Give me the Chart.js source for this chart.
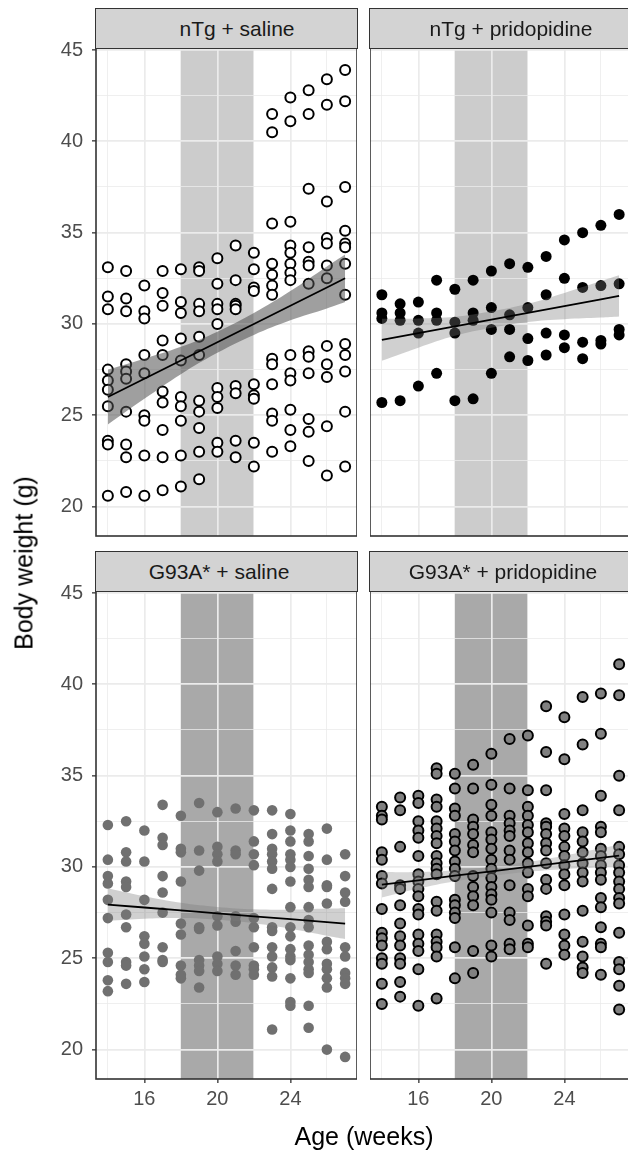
<!DOCTYPE html>
<html>
<head>
<meta charset="utf-8">
<script src="https://cdn.jsdelivr.net/npm/chart.js"></script>
<style>
  html, body { margin:0; padding:0; background:#fff; }
  body { width:628px; height:1151px; overflow:hidden; position:relative; font-family:"Liberation Sans", Arial, sans-serif; }
  canvas { position:absolute; }
  .strip { position:absolute; background:#D3D3D3; border:1.5px solid #333; box-sizing:border-box; z-index:5; }
  .strip span { position:absolute; top:50%; transform:translate(-50%,-50%); font-size:21px; color:#1A1A1A; white-space:nowrap; }
  .title { position:absolute; font-size:25px; color:#000; white-space:nowrap; z-index:5; }
</style>
</head>
<body>
<div class="strip" style="left:95px;top:8px;width:263px;height:41px;"><span style="left:141px">nTg + saline</span></div>
<div class="strip" style="left:369px;top:8px;width:263px;height:41px;"><span style="left:141px">nTg + pridopidine</span></div>
<div class="strip" style="left:95px;top:551px;width:263px;height:41px;"><span style="left:123px">G93A* + saline</span></div>
<div class="strip" style="left:369px;top:551px;width:263px;height:41px;"><span style="left:133px">G93A* + pridopidine</span></div>
<div class="title" id="ytitle" style="left:24px;top:563px;transform:translate(-50%,-50%) rotate(-90deg);">Body weight (g)</div>
<div class="title" style="left:364px;top:1136px;transform:translate(-50%,-50%);">Age (weeks)</div>

<canvas id="c1"></canvas>
<canvas id="c2"></canvas>
<canvas id="c3"></canvas>
<canvas id="c4"></canvas>

<script>
// ---------------- DATA ----------------
const weeks = [14, 15, 16, 17, 18, 19, 20, 21, 22, 23, 24, 25, 26, 27];
const xTicks = [14, 16, 18, 20, 22, 24, 26];
const xLabels = [16, 20, 24];
const yTicks = [20, 22.5, 25, 27.5, 30, 32.5, 35, 37.5, 40, 42.5, 45];
const yLabels = [20, 25, 30, 35, 40, 45];
const treatmentWindow = [18, 22];

const nTgSaline = [
  [33.1, 31.5, 30.8, 27.5, 26.9, 26.4, 25.5, 23.6, 23.4, 20.6],
  [32.9, 31.4, 30.7, 27.8, 27.4, 27.0, 25.2, 23.4, 22.7, 20.8],
  [32.1, 30.7, 30.3, 28.3, 27.3, 25.0, 24.7, 22.8, 20.6],
  [32.9, 31.7, 31.0, 29.1, 28.3, 26.3, 25.7, 24.2, 22.7, 20.9],
  [33.0, 31.2, 30.6, 29.2, 28.0, 26.0, 25.5, 24.7, 22.8, 21.1],
  [33.1, 32.9, 31.1, 30.7, 29.3, 28.3, 25.8, 25.2, 24.3, 23.0, 21.5],
  [33.6, 32.2, 31.1, 30.8, 30.0, 26.5, 26.0, 25.4, 23.5, 23.0],
  [34.3, 32.4, 31.1, 31.0, 30.8, 26.6, 26.2, 23.6, 22.7],
  [33.9, 33.0, 32.0, 31.8, 26.7, 26.1, 25.9, 23.5, 22.2],
  [41.5, 40.5, 35.5, 33.3, 32.7, 32.1, 31.6, 28.1, 27.8, 26.7, 25.1, 24.7, 23.0],
  [42.4, 41.1, 35.6, 34.3, 33.9, 33.3, 32.8, 32.4, 28.3, 27.3, 26.9, 25.3, 24.2, 23.3],
  [42.8, 41.5, 37.4, 34.2, 33.4, 33.2, 32.2, 28.5, 28.2, 27.3, 24.8, 24.1, 22.5],
  [43.4, 42.0, 36.7, 34.7, 34.4, 33.2, 32.5, 28.8, 27.8, 27.1, 24.4, 21.7],
  [43.9, 42.2, 37.5, 35.1, 34.4, 34.2, 33.3, 31.6, 28.9, 28.3, 27.4, 25.2, 22.2]
];
const nTgPrido = [
  [31.6, 30.6, 30.3, 25.7],
  [31.1, 30.6, 30.2, 25.8],
  [31.2, 30.2, 29.5, 26.6],
  [32.4, 30.6, 30.2, 27.3],
  [31.9, 30.1, 29.5, 25.8],
  [32.4, 30.6, 30.2, 25.9],
  [32.9, 30.9, 29.7, 27.3],
  [33.3, 30.5, 29.7, 28.2],
  [33.1, 30.9, 29.2, 28.0],
  [33.7, 31.6, 29.5, 28.3],
  [34.6, 32.5, 29.4, 28.7],
  [35.0, 32.0, 29.0, 28.1],
  [35.4, 32.1, 29.1, 28.9],
  [36.0, 32.2, 29.7, 29.4]
];
const g93aSaline = [
  [32.3, 30.4, 29.5, 29.1, 28.2, 27.2, 25.3, 24.8, 23.8, 23.2],
  [32.5, 30.8, 30.3, 29.2, 28.9, 27.4, 26.7, 24.8, 24.6, 23.6],
  [32.0, 30.3, 28.2, 26.2, 25.8, 25.1, 24.4, 23.7],
  [33.4, 31.6, 31.2, 29.5, 28.6, 27.5, 25.6, 24.9, 24.8],
  [32.8, 31.0, 30.8, 29.2, 26.9, 26.3, 24.6, 24.1, 23.9],
  [33.5, 30.9, 29.8, 26.7, 26.6, 24.9, 24.6, 24.3, 23.4],
  [33.0, 31.1, 30.7, 30.3, 27.3, 26.8, 25.1, 24.7, 24.3],
  [33.2, 30.9, 30.7, 27.3, 27.0, 25.4, 24.6, 24.1],
  [33.1, 31.4, 30.7, 30.1, 27.2, 26.7, 25.6, 24.6, 24.4, 24.1],
  [33.1, 31.8, 31.0, 30.7, 30.3, 29.9, 28.8, 26.7, 26.5, 25.6, 25.1, 24.5, 24.0, 21.1],
  [32.9, 32.0, 31.4, 30.7, 30.4, 30.0, 29.2, 27.8, 26.7, 26.2, 25.5, 25.1, 24.9, 23.9, 22.6, 22.4],
  [31.8, 31.4, 30.6, 29.9, 29.3, 28.9, 27.8, 27.1, 26.7, 25.7, 25.2, 24.8, 24.4, 24.2, 22.4, 21.2],
  [32.1, 30.4, 29.0, 28.9, 28.0, 25.9, 25.5, 24.7, 24.4, 23.9, 23.4, 20.0],
  [30.7, 29.5, 28.6, 28.1, 25.6, 25.1, 24.2, 23.9, 23.6, 19.6]
];
const g93aPrido = [
  [33.3, 32.8, 32.6, 30.8, 30.4, 29.5, 29.1, 27.7, 26.4, 26.1, 25.7, 25.0, 24.7, 23.6, 22.5],
  [33.8, 33.1, 31.1, 29.0, 28.8, 27.9, 26.9, 26.2, 25.7, 25.0, 24.7, 23.7, 22.9],
  [33.9, 33.5, 32.5, 32.0, 31.6, 30.6, 29.6, 29.2, 28.8, 28.4, 27.7, 27.4, 26.3, 25.8, 25.4, 24.4, 22.4],
  [35.4, 35.1, 33.7, 33.3, 32.5, 32.1, 31.7, 31.3, 30.6, 30.2, 29.9, 29.6, 28.1, 27.6, 26.3, 25.9, 25.6, 25.1, 22.8],
  [35.1, 34.3, 33.2, 32.8, 31.8, 31.4, 30.9, 30.3, 29.9, 29.5, 28.2, 27.9, 27.5, 27.2, 25.6, 23.9],
  [35.6, 34.3, 32.6, 32.2, 31.8, 31.2, 30.8, 29.5, 28.9, 28.4, 27.9, 25.4, 24.2],
  [36.2, 34.5, 33.4, 32.8, 31.9, 31.5, 31.0, 30.4, 29.9, 29.4, 28.9, 28.5, 28.2, 27.5, 25.7, 25.1],
  [37.0, 34.3, 32.8, 32.4, 32.0, 31.7, 30.9, 30.4, 29.0, 27.5, 27.1, 25.8, 25.5],
  [37.2, 34.2, 33.3, 32.8, 32.3, 31.9, 31.3, 30.8, 30.2, 29.7, 28.8, 28.4, 26.8, 25.8, 25.6],
  [38.8, 36.3, 34.2, 32.4, 32.2, 31.8, 31.3, 30.9, 30.2, 29.3, 28.8, 27.3, 27.0, 26.8, 24.7],
  [38.2, 35.9, 32.9, 32.1, 31.7, 31.1, 30.6, 30.1, 29.6, 29.0, 27.4, 26.3, 25.7, 25.2],
  [39.3, 36.7, 33.1, 31.9, 31.4, 30.8, 30.2, 29.7, 29.2, 27.6, 25.9, 25.1, 24.5, 24.2],
  [39.5, 37.3, 33.9, 32.2, 31.9, 31.0, 30.6, 30.1, 29.7, 29.3, 28.3, 27.8, 26.7, 25.8, 25.6, 24.1],
  [41.1, 39.4, 35.0, 33.1, 31.1, 30.7, 30.1, 29.7, 29.2, 28.8, 28.3, 28.0, 26.4, 24.8, 24.4, 23.5, 22.2]
];

// Fitted line and confidence band, read at these ages
const fitX = [14, 16, 18, 20, 22, 24, 26, 27];
const nTgSalineFit   = [26.0, 27.0, 28.0, 29.0, 30.0, 31.0, 32.0, 32.5];
const nTgSalineUpper = [27.5, 28.1, 28.75, 29.58, 30.6, 31.8, 33.15, 33.8];
const nTgSalineLower = [24.5, 25.9, 27.25, 28.42, 29.4, 30.2, 30.85, 31.2];
const nTgPridoFit    = [29.13, 29.50, 29.87, 30.24, 30.61, 30.98, 31.35, 31.54];
const nTgPridoUpper  = [30.28, 30.30, 30.39, 30.69, 31.11, 31.70, 32.35, 32.67];
const nTgPridoLower  = [27.98, 28.70, 29.35, 29.79, 30.11, 30.26, 30.35, 30.41];
const g93aSalineFit   = [27.94, 27.78, 27.62, 27.46, 27.30, 27.14, 26.98, 26.90];
const g93aSalineUpper = [28.84, 28.40, 28.04, 27.81, 27.68, 27.66, 27.72, 27.74];
const g93aSalineLower = [27.04, 27.16, 27.20, 27.11, 26.92, 26.62, 26.24, 26.06];
const g93aPridoFit    = [29.03, 29.27, 29.52, 29.76, 30.01, 30.25, 30.50, 30.62];
const g93aPridoUpper  = [29.73, 29.72, 29.82, 30.01, 30.28, 30.62, 31.02, 31.22];
const g93aPridoLower  = [28.33, 28.82, 29.22, 29.51, 29.74, 29.88, 29.98, 30.02];

// ---------------- HELPERS ----------------
const X_MIN = 13.35, X_MAX = 27.65, Y_MIN = 18.39, Y_MAX = 45.11;
const PANEL_W = 261, PANEL_H = 488, PAD_TOP = 25, PAD_BOT = 25;

function toPoints(groups) {
  const pts = [];
  groups.forEach((vals, i) => vals.forEach(v => pts.push({ x: weeks[i], y: v })));
  return pts;
}
function toXY(ys) { return fitX.map((x, i) => ({ x: x, y: ys[i] })); }

const windowPlugin = {
  id: 'windowRect',
  beforeDraw(chart, args, opts) {
    const { ctx, chartArea, scales } = chart;
    const x0 = scales.x.getPixelForValue(treatmentWindow[0]);
    const x1 = scales.x.getPixelForValue(treatmentWindow[1]);
    ctx.save();
    ctx.fillStyle = opts.color;
    ctx.fillRect(x0, chartArea.top, x1 - x0, chartArea.bottom - chartArea.top);
    ctx.restore();
  },
  afterDraw(chart) {
    const { ctx, chartArea } = chart;
    ctx.save();
    ctx.strokeStyle = '#333333';
    ctx.lineWidth = 1.6;
    ctx.strokeRect(chartArea.left, chartArea.top, chartArea.right - chartArea.left, chartArea.bottom - chartArea.top);
    ctx.restore();
  }
};

function makePanel(id, left, top, opt) {
  const showY = opt.showY, showX = opt.showX;
  const yW = showY ? 96 : 0;
  const xH = showX ? 45 : 0;
  const padB = showX ? 0 : PAD_BOT;
  const cv = document.getElementById(id);
  cv.width = yW + PANEL_W;
  cv.height = PAD_TOP + PANEL_H + xH + padB;
  cv.style.left = (left - yW) + 'px';
  cv.style.top = (top - PAD_TOP) + 'px';

  const isMajorX = v => xLabels.includes(v);
  const isMajorY = v => yLabels.includes(v);

  const pointDs = Object.assign({
    data: toPoints(opt.values),
    order: 3,
    pointStyle: 'circle'
  }, opt.pointStyle);

  new Chart(cv, {
    type: 'scatter',
    data: {
      datasets: [
        { data: toXY(opt.fit), showLine: true, borderColor: '#000', borderWidth: 1.8, pointRadius: 0, order: 0, fill: false },
        { data: toXY(opt.lower), showLine: true, borderWidth: 0, borderColor: 'rgba(0,0,0,0)', pointRadius: 0, order: 2, fill: false, tension: 0.4 },
        { data: toXY(opt.upper), showLine: true, borderWidth: 0, borderColor: 'rgba(0,0,0,0)', pointRadius: 0, order: 1, fill: '-1', backgroundColor: opt.bandColor, tension: 0.4 },
        pointDs
      ]
    },
    options: {
      responsive: false,
      animation: false,
      devicePixelRatio: 1,
      layout: { autoPadding: false, padding: { top: PAD_TOP, left: 0, right: 0, bottom: padB } },
      plugins: { legend: { display: false }, tooltip: { enabled: false }, windowRect: { color: opt.rectColor } },
      scales: {
        x: {
          type: 'linear', min: X_MIN, max: X_MAX,
          afterBuildTicks: s => { s.ticks = xTicks.map(v => ({ value: v })); },
          afterFit: s => { s.height = xH; },
          border: { display: false },
          grid: {
            color: '#EBEBEB',
            lineWidth: c => (c.tick && isMajorX(c.tick.value)) ? 1.7 : 0.8,
            drawTicks: showX,
            tickLength: 4,
            tickWidth: 1.3,
            tickColor: c => (c.tick && isMajorX(c.tick.value)) ? '#333333' : 'rgba(0,0,0,0)'
          },
          ticks: {
            display: showX, autoSkip: false, maxRotation: 0, padding: 4,
            color: '#4D4D4D', font: { family: '"Liberation Sans", Arial, sans-serif', size: 20 },
            callback: v => isMajorX(v) ? String(v) : ''
          }
        },
        y: {
          type: 'linear', min: Y_MIN, max: Y_MAX,
          afterBuildTicks: s => { s.ticks = yTicks.map(v => ({ value: v })); },
          afterFit: s => { s.width = yW; },
          border: { display: false },
          grid: {
            color: '#EBEBEB',
            lineWidth: c => (c.tick && isMajorY(c.tick.value)) ? 1.7 : 0.8,
            drawTicks: showY,
            tickLength: 4,
            tickWidth: 1.3,
            tickColor: c => (c.tick && isMajorY(c.tick.value)) ? '#333333' : 'rgba(0,0,0,0)'
          },
          ticks: {
            display: showY, autoSkip: false, padding: 9,
            color: '#4D4D4D', font: { family: '"Liberation Sans", Arial, sans-serif', size: 20 },
            callback: v => isMajorY(v) ? String(v) : ''
          }
        }
      }
    },
    plugins: [windowPlugin]
  });
}

makePanel('c1', 96, 48, {
  showY: true, showX: false, values: nTgSaline,
  fit: nTgSalineFit, upper: nTgSalineUpper, lower: nTgSalineLower,
  bandColor: 'rgba(80,80,80,0.55)', rectColor: '#CCCCCC',
  pointStyle: { pointRadius: 5, borderWidth: 2, borderColor: '#000', backgroundColor: '#fff' }
});
makePanel('c2', 370, 48, {
  showY: false, showX: false, values: nTgPrido,
  fit: nTgPridoFit, upper: nTgPridoUpper, lower: nTgPridoLower,
  bandColor: 'rgba(120,120,120,0.35)', rectColor: '#CCCCCC',
  pointStyle: { pointRadius: 5.5, borderWidth: 0, borderColor: '#000', backgroundColor: '#000' }
});
makePanel('c3', 96, 591, {
  showY: true, showX: true, values: g93aSaline,
  fit: g93aSalineFit, upper: g93aSalineUpper, lower: g93aSalineLower,
  bandColor: 'rgba(120,120,120,0.35)', rectColor: '#A9A9A9',
  pointStyle: { pointRadius: 5.3, borderWidth: 0, borderColor: '#707070', backgroundColor: '#707070' }
});
makePanel('c4', 370, 591, {
  showY: false, showX: true, values: g93aPrido,
  fit: g93aPridoFit, upper: g93aPridoUpper, lower: g93aPridoLower,
  bandColor: 'rgba(140,140,140,0.35)', rectColor: '#A9A9A9',
  pointStyle: { pointRadius: 5, borderWidth: 2, borderColor: '#000', backgroundColor: '#808080' }
});
</script>
</body>
</html>
